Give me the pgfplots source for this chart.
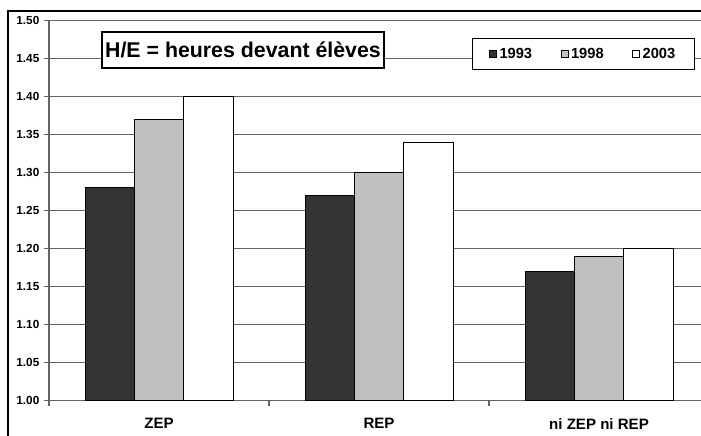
\documentclass[border=0pt]{standalone}
\usepackage{pgfplots}
\pgfplotsset{compat=1.18}
\usepackage{fontspec}
\setmainfont{Liberation Sans}
\definecolor{darkbar}{RGB}{51,51,51}
\definecolor{graybar}{RGB}{192,192,192}
\definecolor{gridc}{RGB}{100,100,100}
\begin{document}
\begin{tikzpicture}
\path[use as bounding box] (0pt,0pt) rectangle (525.75pt,327pt);
\clip (0pt,0pt) rectangle (525.75pt,327pt);
\begin{axis}[
  at={(36.75pt,26.5pt)}, anchor=south west,
  scale only axis, width=495pt, height=285pt,
  ybar=0pt, bar width=0.224,
  xmin=-0.5, xmax=2.5, ymin=1.0, ymax=1.5,
  axis lines*=left,
  axis line style={gridc, line width=0.9pt},
  xtick={0,1,2},
  xticklabels={ZEP, REP, ni ZEP ni REP},
  minor xtick={-0.5,0.5,1.5,2.5},
  major x tick style={draw=none},
  minor x tick style={gridc, line width=0.9pt},
  minor tick length=3.75pt,
  major tick length=3.75pt,
  tick align=outside,
  ytick={1.00,1.05,...,1.51},
  y tick style={gridc, line width=0.9pt},
  ymajorgrids,
  grid style={gridc, line width=0.75pt},
  xticklabel style={font=\bfseries\fontsize{11.3}{13}\selectfont, yshift=-6pt},
  yticklabel style={font=\bfseries\fontsize{8.8}{10}\selectfont,
    /pgf/number format/.cd, fixed, fixed zerofill, precision=2, assume math mode=true},
  legend columns=3,
  legend style={at={(0.641,0.9545)}, anchor=north west, draw=black, line width=0.8pt,
    font=\bfseries\fontsize{11}{13}\selectfont, inner xsep=12.5pt, inner ysep=5pt,
    /tikz/every even column/.append style={column sep=19.5pt}},
  legend image code/.code={\draw[#1,draw=black,line width=0.5pt] (0pt,-2.6pt) rectangle (5.2pt,2.6pt);},
]
\addplot[fill=darkbar, draw=black, line width=0.6pt] coordinates {(0,1.28) (1,1.27) (2,1.17)};
\addplot[fill=graybar, draw=black, line width=0.6pt] coordinates {(0,1.37) (1,1.30) (2,1.19)};
\addplot[fill=white, draw=black, line width=0.6pt] coordinates {(0,1.40) (1,1.34) (2,1.20)};
\legend{1993,1998,2003}
\end{axis}
\node[draw=black, fill=white, line width=0.8pt, minimum width=211.5pt, minimum height=27pt,
  inner sep=0pt, font=\bfseries\fontsize{16}{19}\selectfont] at (182.25pt,289.5pt) {H/E = heures devant élèves};
\draw[black, line width=0.9pt] (6pt,-10pt) rectangle (560pt,318.75pt);
\end{tikzpicture}
\end{document}
